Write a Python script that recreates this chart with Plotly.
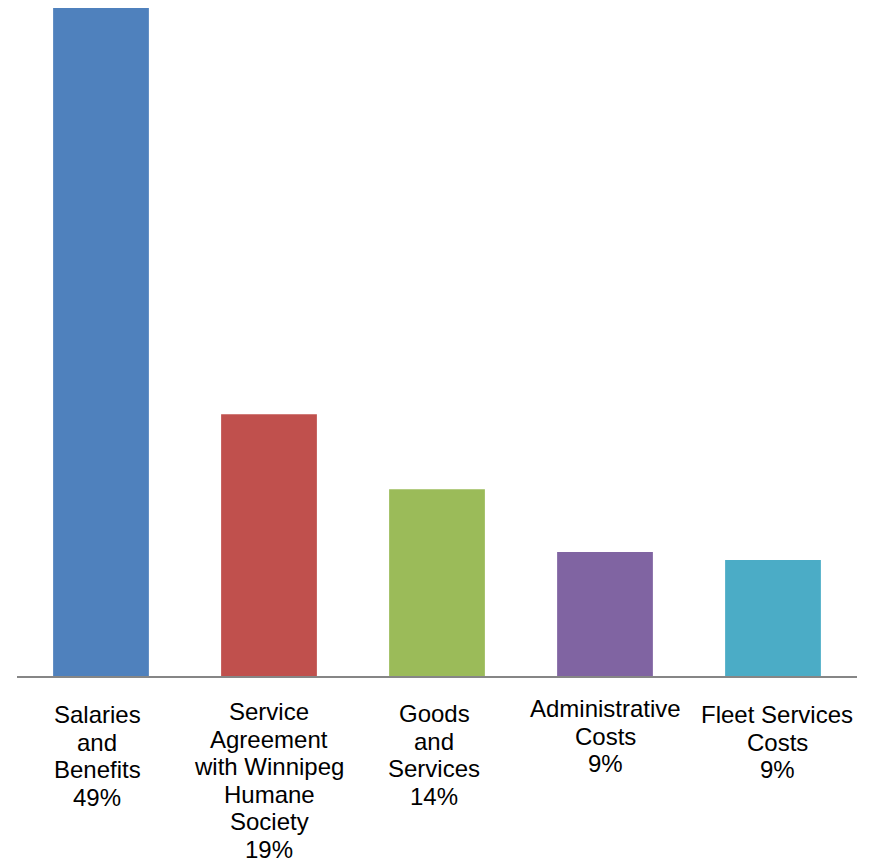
import plotly.graph_objects as go

categories = [
    "Salaries and Benefits",
    "Service Agreement with Winnipeg Humane Society",
    "Goods and Services",
    "Administrative Costs",
    "Fleet Services Costs",
]
label_lines = [
    ["Salaries", "and", "Benefits", "49%"],
    ["Service", "Agreement", "with Winnipeg", "Humane", "Society", "19%"],
    ["Goods", "and", "Services", "14%"],
    ["Administrative", "Costs", "9%"],
    ["Fleet Services", "Costs", "9%"],
]
values = [49.0, 19.2, 13.7, 9.1, 8.5]
colors = ["#4F81BD", "#C0504D", "#9BBB59", "#8064A2", "#4BACC6"]

# label placement (styling): baseline of first line below axis, horizontal nudge
first_baseline = [46, 43, 45, 40, 46]
x_nudge = [-4, 0, -3, 0, 4]
line_step = 27.5
font_size = 24
baseline_in_box = 22  # approx distance from annotation top to text baseline

fig = go.Figure(go.Bar(x=categories, y=values, marker_color=colors, marker_line_width=0))

annotations = []
for cat, lines, fb, dx in zip(categories, label_lines, first_baseline, x_nudge):
    for i, txt in enumerate(lines):
        annotations.append(dict(
            x=cat, xref="x", y=0, yref="paper",
            text=txt, showarrow=False, xanchor="center", yanchor="top",
            xshift=dx,
            yshift=-(fb + i * line_step - baseline_in_box), borderpad=0,
            font=dict(size=font_size, color="black"),
        ))

fig.update_layout(
    width=871, height=860,
    margin=dict(l=17, r=14, t=8, b=184),
    plot_bgcolor="white", paper_bgcolor="white",
    bargap=0.43,
    showlegend=False,
    font=dict(family="Liberation Sans, Arial, sans-serif", size=20, color="black"),
    annotations=annotations,
)
fig.update_xaxes(showline=True, linecolor="#868686", linewidth=2, ticks="", showgrid=False,
                 showticklabels=False)
fig.update_yaxes(range=[0, 49], visible=False, showgrid=False)
fig.write_html("out.html")
